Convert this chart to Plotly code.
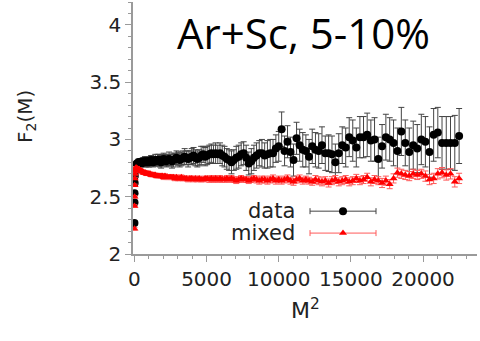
import plotly.graph_objects as go

# M^2 values (M = 1..150)
m2 = [1, 4, 9, 16, 25, 36, 49, 64, 81, 100,
      121, 144, 169, 196, 225, 256, 289, 324, 361, 400,
      441, 484, 529, 576, 625, 676, 729, 784, 841, 900,
      961, 1024, 1089, 1156, 1225, 1296, 1369, 1444, 1521, 1600,
      1681, 1764, 1849, 1936, 2025, 2116, 2209, 2304, 2401, 2500,
      2601, 2704, 2809, 2916, 3025, 3136, 3249, 3364, 3481, 3600,
      3721, 3844, 3969, 4096, 4225, 4356, 4489, 4624, 4761, 4900,
      5041, 5184, 5329, 5476, 5625, 5776, 5929, 6084, 6241, 6400,
      6561, 6724, 6889, 7056, 7225, 7396, 7569, 7744, 7921, 8100,
      8281, 8464, 8649, 8836, 9025, 9216, 9409, 9604, 9801, 10000,
      10201, 10404, 10609, 10816, 11025, 11236, 11449, 11664, 11881, 12100,
      12321, 12544, 12769, 12996, 13225, 13456, 13689, 13924, 14161, 14400,
      14641, 14884, 15129, 15376, 15625, 15876, 16129, 16384, 16641, 16900,
      17161, 17424, 17689, 17956, 18225, 18496, 18769, 19044, 19321, 19600,
      19881, 20164, 20449, 20736, 21025, 21316, 21609, 21904, 22201, 22500]

data_f2 = [2.27, 2.45, 2.53, 2.62, 2.68, 2.72, 2.74, 2.76, 2.77, 2.77,
           2.78, 2.78, 2.79, 2.78, 2.79, 2.79, 2.80, 2.79, 2.80, 2.80,
           2.80, 2.79, 2.80, 2.81, 2.80, 2.80, 2.81, 2.80, 2.81, 2.80,
           2.81, 2.80, 2.81, 2.82, 2.81, 2.80, 2.81, 2.82, 2.81, 2.82,
           2.82, 2.81, 2.80, 2.82, 2.83, 2.82, 2.81, 2.82, 2.83, 2.82,
           2.81, 2.82, 2.83, 2.84, 2.83, 2.82, 2.83, 2.84, 2.85, 2.84,
           2.83, 2.84, 2.85, 2.86, 2.84, 2.83, 2.84, 2.86, 2.87, 2.85,
           2.86, 2.87, 2.88, 2.87, 2.88, 2.87, 2.88, 2.86, 2.85, 2.83,
           2.82, 2.80, 2.82, 2.84, 2.85, 2.87, 2.88, 2.84, 2.79, 2.81,
           2.84, 2.86, 2.88, 2.88, 2.86, 2.87, 2.88, 2.88, 2.92, 2.94,
           3.09, 2.90, 2.98, 2.89, 2.82, 3.01, 2.95, 2.91, 2.90, 2.85,
           2.94, 2.91, 2.90, 2.95, 2.88, 2.88, 2.87, 2.80, 2.88, 2.95,
           2.93, 3.02, 2.99, 2.93, 3.02, 3.02, 3.04, 2.99, 3.00, 2.83,
           2.94, 3.02, 3.00, 2.97, 2.90, 3.07, 2.97, 2.89, 2.95, 2.92,
           3.00, 2.98, 2.89, 3.04, 3.06, 2.97, 2.97, 2.97, 2.97, 3.03]

data_err = [0.02, 0.02, 0.02, 0.02, 0.02, 0.02, 0.02, 0.02, 0.02, 0.02,
            0.02, 0.02, 0.02, 0.03, 0.03, 0.03, 0.03, 0.03, 0.03, 0.03,
            0.03, 0.03, 0.03, 0.03, 0.03, 0.03, 0.04, 0.04, 0.04, 0.04,
            0.04, 0.04, 0.04, 0.04, 0.04, 0.04, 0.04, 0.05, 0.04, 0.05,
            0.05, 0.05, 0.05, 0.05, 0.05, 0.05, 0.05, 0.05, 0.06, 0.05,
            0.06, 0.06, 0.05, 0.06, 0.06, 0.06, 0.06, 0.06, 0.07, 0.06,
            0.07, 0.06, 0.07, 0.07, 0.07, 0.07, 0.07, 0.08, 0.07, 0.08,
            0.08, 0.08, 0.08, 0.08, 0.09, 0.08, 0.09, 0.09, 0.09, 0.09,
            0.09, 0.10, 0.09, 0.10, 0.10, 0.10, 0.10, 0.11, 0.10, 0.11,
            0.11, 0.11, 0.11, 0.12, 0.11, 0.12, 0.12, 0.12, 0.12, 0.13,
            0.15, 0.13, 0.14, 0.13, 0.14, 0.14, 0.14, 0.15, 0.14, 0.15,
            0.15, 0.15, 0.15, 0.16, 0.15, 0.16, 0.16, 0.16, 0.17, 0.16,
            0.17, 0.17, 0.18, 0.17, 0.18, 0.18, 0.19, 0.18, 0.19, 0.19,
            0.19, 0.20, 0.19, 0.20, 0.20, 0.21, 0.20, 0.21, 0.21, 0.21,
            0.22, 0.22, 0.22, 0.23, 0.22, 0.23, 0.23, 0.23, 0.24, 0.24]

mixed_f2 = [2.22, 2.42, 2.50, 2.60, 2.66, 2.70, 2.73, 2.74, 2.75, 2.75,
            2.75, 2.75, 2.75, 2.74, 2.74, 2.74, 2.74, 2.74, 2.73, 2.73,
            2.73, 2.72, 2.72, 2.72, 2.71, 2.71, 2.71, 2.71, 2.70, 2.70,
            2.70, 2.70, 2.70, 2.69, 2.69, 2.69, 2.69, 2.69, 2.68, 2.68,
            2.68, 2.68, 2.68, 2.68, 2.67, 2.68, 2.67, 2.67, 2.67, 2.67,
            2.67, 2.67, 2.66, 2.67, 2.66, 2.66, 2.67, 2.66, 2.66, 2.66,
            2.65, 2.66, 2.66, 2.65, 2.66, 2.65, 2.66, 2.65, 2.65, 2.66,
            2.66, 2.65, 2.66, 2.65, 2.66, 2.65, 2.66, 2.65, 2.65, 2.66,
            2.65, 2.66, 2.65, 2.64, 2.65, 2.66, 2.65, 2.65, 2.64, 2.65,
            2.66, 2.65, 2.64, 2.65, 2.65, 2.64, 2.65, 2.66, 2.64, 2.65,
            2.64, 2.65, 2.66, 2.64, 2.63, 2.65, 2.66, 2.64, 2.65, 2.64,
            2.63, 2.65, 2.64, 2.63, 2.64, 2.62, 2.64, 2.65, 2.63, 2.64,
            2.65, 2.63, 2.64, 2.66, 2.64, 2.65, 2.67, 2.63, 2.65, 2.64,
            2.62, 2.64, 2.61, 2.66, 2.71, 2.70, 2.69, 2.68, 2.70, 2.69,
            2.70, 2.68, 2.65, 2.66, 2.70, 2.71, 2.69, 2.70, 2.63, 2.66]

mixed_err = [0.01, 0.01, 0.01, 0.01, 0.01, 0.01, 0.01, 0.01, 0.01, 0.01,
             0.01, 0.01, 0.01, 0.01, 0.01, 0.01, 0.01, 0.01, 0.01, 0.01,
             0.01, 0.01, 0.01, 0.01, 0.01, 0.015, 0.015, 0.015, 0.015, 0.015,
             0.015, 0.015, 0.015, 0.015, 0.015, 0.015, 0.015, 0.015, 0.015, 0.015,
             0.015, 0.015, 0.02, 0.02, 0.02, 0.02, 0.02, 0.02, 0.02, 0.02,
             0.02, 0.02, 0.02, 0.02, 0.02, 0.02, 0.02, 0.02, 0.02, 0.02,
             0.02, 0.02, 0.02, 0.02, 0.02, 0.02, 0.02, 0.02, 0.02, 0.02,
             0.02, 0.025, 0.025, 0.025, 0.025, 0.025, 0.025, 0.025, 0.025, 0.025,
             0.025, 0.025, 0.025, 0.025, 0.025, 0.025, 0.025, 0.025, 0.025, 0.025,
             0.025, 0.03, 0.03, 0.03, 0.03, 0.03, 0.03, 0.03, 0.03, 0.03,
             0.03, 0.03, 0.03, 0.03, 0.03, 0.03, 0.03, 0.03, 0.03, 0.03,
             0.03, 0.035, 0.035, 0.035, 0.035, 0.035, 0.035, 0.035, 0.035, 0.035,
             0.035, 0.035, 0.035, 0.035, 0.035, 0.035, 0.035, 0.035, 0.035, 0.035,
             0.04, 0.04, 0.04, 0.04, 0.04, 0.04, 0.04, 0.04, 0.04, 0.04,
             0.04, 0.045, 0.045, 0.045, 0.045, 0.045, 0.045, 0.045, 0.045, 0.045]

series_names = ["data", "mixed"]
title_text = "Ar+Sc, 5-10%"
x_ticks = [0, 5000, 10000, 15000, 20000]
x_ticklabels = ["0", "5000", "10000", "15000", "20000"]
y_ticks = [2, 2.5, 3, 3.5, 4]
y_ticklabels = ["2", "2.5", "3", "3.5", "4"]

BLACK = "#000000"
BLACK_ERR = "#444444"
RED = "#ff0000"
RED_ERR = "#ff5a5a"
AXIS = "#9a9a9a"
TICKFONT = dict(family="DejaVu Sans", size=20, color="#222222")

fig = go.Figure()
fig.add_trace(go.Scatter(
    x=m2, y=data_f2, mode="markers", name=series_names[0], showlegend=False,
    marker=dict(symbol="circle", size=8, color=BLACK),
    error_y=dict(type="data", array=data_err, color=BLACK_ERR, thickness=1, width=3)))
fig.add_trace(go.Scatter(
    x=m2, y=mixed_f2, mode="markers", name=series_names[1], showlegend=False,
    marker=dict(symbol="triangle-up", size=7, color=RED),
    error_y=dict(type="data", array=mixed_err, color=RED_ERR, thickness=1, width=3)))

# legend glyphs on an overlay unit axis
leg_x = [0.6105]
leg_half = [0.0959]
fig.add_trace(go.Scatter(
    x=leg_x, y=[0.170], xaxis="x2", yaxis="y2", mode="markers", showlegend=False,
    marker=dict(symbol="circle", size=8, color=BLACK), hoverinfo="skip",
    error_x=dict(type="data", array=leg_half, color=BLACK_ERR, thickness=1, width=3)))
fig.add_trace(go.Scatter(
    x=leg_x, y=[0.083], xaxis="x2", yaxis="y2", mode="markers", showlegend=False,
    marker=dict(symbol="triangle-up", size=7, color=RED), hoverinfo="skip",
    error_x=dict(type="data", array=leg_half, color=RED_ERR, thickness=1, width=3)))

fig.update_layout(
    width=480, height=341,
    margin=dict(l=133, r=3, t=2, b=87),
    paper_bgcolor="white", plot_bgcolor="white",
    showlegend=False,
    xaxis=dict(range=[-100, 23740], tickvals=x_ticks, ticktext=x_ticklabels,
               showgrid=False, zeroline=False,
               showline=True, linecolor=AXIS, linewidth=1.5,
               ticks="outside", ticklen=6, tickcolor=AXIS, tickwidth=1.2,
               minor=dict(dtick=1000, tick0=0, ticks="outside", ticklen=3, tickcolor=AXIS, showgrid=False),
               tickfont=TICKFONT),
    yaxis=dict(range=[2, 4.2], tickvals=y_ticks, ticktext=y_ticklabels,
               showgrid=False, zeroline=False,
               showline=True, linecolor=AXIS, linewidth=1.5,
               ticks="outside", ticklen=6, tickcolor=AXIS, tickwidth=1.2,
               minor=dict(dtick=0.1, tick0=2, ticks="outside", ticklen=3, tickcolor=AXIS, showgrid=False),
               tickfont=TICKFONT),
    xaxis2=dict(overlaying="x", range=[0, 1], visible=False, fixedrange=True),
    yaxis2=dict(overlaying="y", range=[0, 1], visible=False, fixedrange=True),
    annotations=[
        dict(text=title_text, xref="paper", yref="paper", x=0.497, y=0.877,
             xanchor="center", yanchor="middle", showarrow=False,
             font=dict(family="Open Sans", size=42, color="#000000")),
        dict(text="F<sub>2</sub>(M)", xref="paper", yref="paper", x=-0.311, y=0.544,
             xanchor="center", yanchor="middle", showarrow=False, textangle=-90,
             font=dict(family="DejaVu Sans", size=20, color="#222222")),
        dict(text="M<sup>2</sup>", xref="paper", yref="paper", x=0.5, y=-0.218,
             xanchor="center", yanchor="middle", showarrow=False,
             font=dict(family="DejaVu Sans", size=22, color="#222222")),
        dict(text=series_names[0], xref="paper", yref="paper", x=0.4767, y=0.170,
             xanchor="right", yanchor="middle", showarrow=False,
             font=dict(family="DejaVu Sans", size=21, color="#222222")),
        dict(text=series_names[1], xref="paper", yref="paper", x=0.4767, y=0.083,
             xanchor="right", yanchor="middle", showarrow=False,
             font=dict(family="DejaVu Sans", size=21, color="#222222")),
    ],
)

fig.write_html("out.html")
